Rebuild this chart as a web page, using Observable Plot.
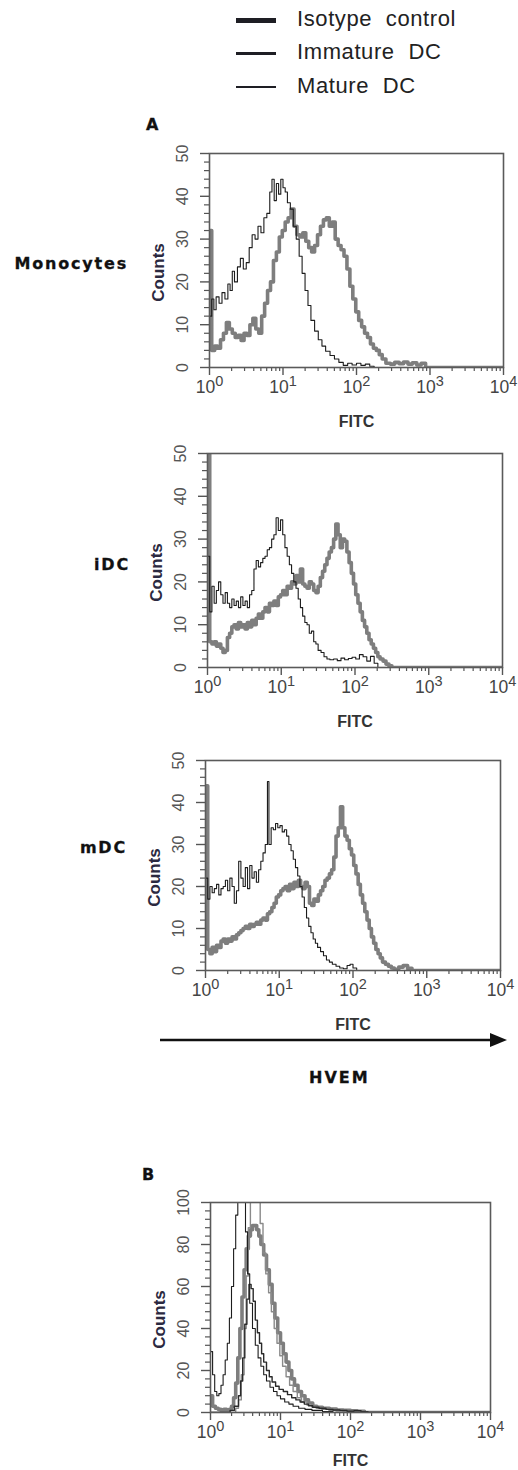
<!DOCTYPE html>
<html><head><meta charset="utf-8">
<script src="https://cdn.jsdelivr.net/npm/d3@7"></script>
<script src="https://cdn.jsdelivr.net/npm/@observablehq/plot@0.6"></script>
<style>
body{margin:0;background:#fff;}
#root{position:relative;width:518px;height:1470px;overflow:hidden;font-family:"Liberation Sans",Arial,sans-serif;background:#fff;}
.abs{position:absolute;white-space:nowrap;line-height:1;}
.bold{font-family:"DejaVu Sans",sans-serif;font-weight:bold;color:#111;-webkit-text-stroke:0.3px #111;}
.leg{font-size:22px;color:#222;word-spacing:7px;letter-spacing:0.6px;}
svg.panel{position:absolute;left:0;overflow:visible;}
</style></head><body><div id="root"></div>
<script>
// ---------- labels ----------
const legendNames = ["Isotype control", "Immature DC", "Mature DC"];
const rowLabels = ["Monocytes", "iDC", "mDC"];
const xTickExponents = [0, 1, 2, 3, 4];
const yTicksA = [0, 10, 20, 30, 40, 50];
const yTicksB = [0, 20, 40, 60, 80, 100];

// ---------- data: [log10(FITC), counts] ----------
const monoThin = [[0.00,12],[0.03,16],[0.06,13.5],[0.09,16.5],[0.13,15],[0.17,17.5],[0.21,16],[0.25,19.5],[0.28,18],[0.31,22.5],[0.34,20],[0.38,23.5],[0.42,25.5],[0.46,23],[0.50,24.5],[0.54,28],[0.58,31],[0.62,30],[0.66,33],[0.70,31.5],[0.74,35],[0.78,36],[0.82,41],[0.85,44],[0.88,39],[0.91,43],[0.94,40.5],[0.97,44],[1.00,42],[1.03,41],[1.06,38.5],[1.10,37],[1.14,33],[1.18,30],[1.22,26],[1.26,22],[1.30,18],[1.34,14.5],[1.38,11],[1.43,8.5],[1.48,6.5],[1.53,5],[1.58,3.8],[1.64,2.8],[1.70,2],[1.76,1.2],[1.82,0.5],[1.88,1],[1.94,0.6],[2.00,1],[2.06,0.5],[2.12,0.8],[2.18,0.3],[2.24,0],[4.00,0]];
const monoThick = [[0.00,32],[0.03,4],[0.07,5],[0.11,4.5],[0.15,6.5],[0.19,8],[0.23,10.5],[0.27,9],[0.31,8],[0.35,7],[0.39,7.5],[0.43,6.3],[0.47,8],[0.51,7.5],[0.55,10],[0.59,11.5],[0.63,9],[0.67,8],[0.71,12],[0.75,15],[0.79,18],[0.83,20],[0.87,25],[0.91,27],[0.95,30.5],[0.99,32],[1.03,34],[1.07,35],[1.11,37],[1.15,33],[1.19,31],[1.23,30.5],[1.27,31.5],[1.31,29.5],[1.35,28],[1.39,27],[1.43,28.5],[1.47,31],[1.51,33],[1.55,34.5],[1.59,35],[1.63,33],[1.67,34],[1.71,30],[1.75,28.5],[1.79,27.5],[1.83,26],[1.87,23],[1.91,19],[1.95,16],[1.99,13],[2.03,11],[2.07,9.5],[2.11,8],[2.15,7],[2.19,5.5],[2.23,4.5],[2.27,4],[2.31,3],[2.35,2],[2.40,1],[2.46,0.8],[2.52,1.2],[2.58,0.9],[2.64,1.3],[2.70,0.8],[2.76,1.1],[2.82,0.6],[2.88,1],[2.94,0],[4.00,0]];

const idcThin = [[0.00,26],[0.03,13],[0.06,19],[0.09,15],[0.12,18],[0.15,20],[0.18,17],[0.21,15],[0.24,17.5],[0.27,15],[0.30,14],[0.33,16],[0.36,14.5],[0.39,15.5],[0.42,14],[0.45,16.5],[0.48,14.5],[0.51,15.5],[0.54,14],[0.57,17],[0.60,18],[0.63,23],[0.66,25],[0.69,23.5],[0.72,24.5],[0.75,25.5],[0.78,26],[0.81,27.5],[0.84,28],[0.87,30],[0.90,31],[0.93,35],[0.96,32],[0.99,34.5],[1.02,31],[1.05,28],[1.08,26],[1.11,24],[1.14,22],[1.17,20],[1.20,18.5],[1.23,16],[1.26,14],[1.29,12],[1.32,10.5],[1.35,10],[1.38,8],[1.41,8.5],[1.44,6],[1.47,5.5],[1.50,4],[1.54,3.5],[1.58,2.5],[1.62,2],[1.66,1.8],[1.71,2],[1.76,1.6],[1.81,2.2],[1.86,1.8],[1.91,2.1],[1.96,2.4],[2.01,2],[2.06,3],[2.11,2.5],[2.16,1.5],[2.21,2.6],[2.26,1],[2.31,0],[4.00,0]];
const idcThick = [[0.00,55],[0.03,6],[0.06,5.5],[0.09,6],[0.12,5],[0.15,5.5],[0.18,4.5],[0.21,3.5],[0.24,4],[0.27,7],[0.30,8],[0.33,9.5],[0.36,10],[0.39,9],[0.42,10.5],[0.45,9.5],[0.48,10],[0.51,9],[0.54,10.5],[0.57,9.5],[0.60,11],[0.63,10],[0.66,11.5],[0.69,12.5],[0.72,11.5],[0.75,13],[0.78,14],[0.81,13],[0.84,15],[0.87,14.5],[0.90,15.5],[0.93,14.5],[0.96,16.5],[0.99,17],[1.02,18],[1.05,17],[1.08,19],[1.11,18.5],[1.14,20],[1.17,19.5],[1.20,21.5],[1.23,20],[1.26,23],[1.29,19.5],[1.32,19],[1.35,18.5],[1.38,20],[1.41,19.5],[1.44,18],[1.47,17.5],[1.50,19],[1.53,21],[1.56,22.5],[1.59,24],[1.62,25.5],[1.65,27],[1.68,28],[1.71,30],[1.74,33.5],[1.77,31],[1.80,28],[1.83,30],[1.86,29.5],[1.89,27],[1.92,24.5],[1.95,22],[1.98,19.5],[2.01,17],[2.04,15],[2.07,13],[2.10,11],[2.13,9.5],[2.16,8],[2.19,6.5],[2.22,5.5],[2.25,4.5],[2.28,3.5],[2.31,2.5],[2.34,2],[2.38,1.5],[2.42,0.8],[2.46,0.4],[2.50,0],[4.00,0]];

const mdcThin = [[0.00,22],[0.03,17],[0.06,20],[0.09,18.5],[0.12,19.5],[0.15,20.5],[0.18,18],[0.21,19.5],[0.24,20],[0.27,21.5],[0.30,19],[0.33,22],[0.36,20],[0.39,16],[0.42,19],[0.45,26],[0.48,22],[0.51,20],[0.54,24.5],[0.57,19.5],[0.60,25],[0.63,22],[0.66,23.5],[0.69,21],[0.72,24],[0.75,26],[0.78,28],[0.81,30],[0.84,45],[0.86,30],[0.89,34],[0.92,33.5],[0.95,35],[0.98,34],[1.01,34.5],[1.04,33],[1.07,33.5],[1.10,32],[1.13,30],[1.16,28.5],[1.19,26.5],[1.22,24.5],[1.25,22.5],[1.28,20],[1.31,17.5],[1.34,15],[1.37,12.5],[1.40,10.5],[1.43,9],[1.46,7.5],[1.49,6.5],[1.52,5.5],[1.56,4.5],[1.60,3.5],[1.64,2.5],[1.68,2],[1.72,1.5],[1.77,1],[1.82,0.6],[1.87,0.4],[1.92,1.2],[1.96,1.5],[2.00,0.6],[2.05,0],[4.00,0]];
const mdcThick = [[0.00,44],[0.03,5],[0.06,4],[0.09,5.5],[0.12,4.5],[0.15,6],[0.18,5.5],[0.21,7],[0.24,7.5],[0.27,6.5],[0.30,7.5],[0.33,7],[0.36,8],[0.39,7.5],[0.42,8.5],[0.45,9],[0.48,9.5],[0.51,10],[0.54,10.5],[0.57,10],[0.60,11],[0.63,10.5],[0.66,11],[0.69,11.5],[0.72,11],[0.75,12],[0.78,12.5],[0.81,12],[0.84,13.5],[0.87,14],[0.90,15],[0.93,16],[0.96,17.5],[0.99,18],[1.02,19],[1.05,19.5],[1.08,20],[1.11,19],[1.14,20.5],[1.17,19.5],[1.20,21],[1.23,20],[1.26,21.5],[1.29,20],[1.32,19.5],[1.35,21],[1.38,20],[1.41,16],[1.44,15.5],[1.47,17],[1.50,16.5],[1.53,18],[1.56,19],[1.59,20],[1.62,21.5],[1.65,22],[1.68,23],[1.71,24],[1.74,27],[1.77,32],[1.80,34],[1.83,39],[1.86,34],[1.89,32],[1.92,31],[1.95,29],[1.98,27.5],[2.01,25],[2.04,23],[2.07,20.5],[2.10,18],[2.13,16],[2.16,14],[2.19,12],[2.22,10],[2.25,8],[2.28,6.5],[2.31,5],[2.34,4],[2.37,3],[2.40,2],[2.44,1.5],[2.48,1],[2.52,0.6],[2.56,0.3],[2.62,0.8],[2.68,1.2],[2.74,0.5],[2.80,0],[4.00,0]];

const bThinLeft = [[0.00,29],[0.03,18],[0.06,10],[0.09,8],[0.12,9],[0.15,13],[0.18,18],[0.21,25],[0.24,33],[0.27,45],[0.30,60],[0.33,78],[0.36,94],[0.39,105],[0.42,106],[0.45,106],[0.48,104],[0.50,86],[0.53,66],[0.56,52],[0.60,40],[0.64,32],[0.68,26],[0.72,22],[0.76,18],[0.80,15],[0.85,12],[0.90,10],[0.95,8],[1.00,6.5],[1.06,5],[1.12,4],[1.18,3],[1.26,2],[1.35,1.5],[1.45,1],[1.60,0.5],[1.75,0],[4.00,0]];
const bThinMid = [[0.00,0],[0.20,0],[0.28,1],[0.34,3],[0.40,8],[0.43,15],[0.46,26],[0.49,42],[0.52,54],[0.55,61],[0.58,59],[0.61,53],[0.64,44],[0.67,38],[0.70,33],[0.73,28],[0.76,24],[0.80,20],[0.84,17],[0.88,14.5],[0.93,12.5],[0.98,11],[1.04,10],[1.10,8.5],[1.16,7],[1.22,6],[1.28,5],[1.34,4],[1.40,3.2],[1.46,2.5],[1.55,2],[1.65,1.5],[1.75,1.2],[1.85,1],[1.95,0.6],[2.05,0.8],[2.15,0.4],[2.25,0],[4.00,0]];
const bThinGray = [[0.00,0],[0.30,0],[0.36,2],[0.40,6],[0.44,18],[0.48,40],[0.51,65],[0.54,88],[0.57,104],[0.60,106],[0.64,106],[0.68,104],[0.71,90],[0.75,76],[0.79,66],[0.83,57],[0.87,48],[0.91,40],[0.95,33],[0.99,27],[1.03,22],[1.08,17],[1.13,13],[1.18,10],[1.24,7],[1.30,5],[1.38,3.5],[1.46,2.5],[1.55,2],[1.65,1.5],[1.80,1],[1.95,0.5],[2.10,0],[4.00,0]];
const bThick = [[0.00,8],[0.03,3],[0.07,2],[0.11,1.5],[0.15,1],[0.19,1.5],[0.23,1],[0.27,1.5],[0.30,3],[0.33,7],[0.36,14],[0.39,26],[0.42,40],[0.45,55],[0.48,68],[0.51,78],[0.54,84],[0.57,87],[0.60,89],[0.63,89],[0.66,87],[0.69,84],[0.72,80],[0.76,75],[0.80,68],[0.84,61],[0.88,52],[0.92,45],[0.96,38],[1.00,33],[1.04,28],[1.08,24],[1.12,20],[1.16,16],[1.20,13],[1.25,10],[1.30,8],[1.35,6],[1.40,4.5],[1.46,3],[1.52,2.5],[1.60,2],[1.70,1.6],[1.80,1.2],[1.90,1],[2.00,0.8],[2.10,0.6],[2.20,0],[4.00,0]];

// ---------- helpers ----------
const root = document.getElementById("root");
const toRows = arr => arr.map(([e, c]) => ({x: 10 ** e, y: c}));
const xMajor = xTickExponents.map(k => 10 ** k);
const xMinor = [];
for (const k of xTickExponents.slice(0, -1)) for (let m = 2; m <= 9; m++) xMinor.push(m * 10 ** k);

const THIN = {stroke: "#1c1c1c", strokeWidth: 1.1};
const MID = {stroke: "#2a2a2a", strokeWidth: 1.4};
const THINGRAY = {stroke: "#8a8a8a", strokeWidth: 1.4};
const THICK = {stroke: "#7e7e7e", strokeWidth: 3.6};

function addText(txt, css, cls) {
  const d = document.createElement("div");
  d.className = "abs " + (cls || "");
  d.textContent = txt;
  Object.assign(d.style, css);
  root.appendChild(d);
  return d;
}

function panel({frame: [x0, x1, y0, y1], yMax, yMajor, yMinorStep, series, fitcOffset = 59}) {
  const mt = 14, mb = 72;
  const yMinor = d3.range(0, yMax + 1e-9, yMinorStep).filter(v => !yMajor.includes(v));
  const marks = [
    Plot.axisX({ticks: xMinor, tickSize: 4, tickFormat: () => "", label: null, stroke: "#555", strokeWidth: 1.2}),
    Plot.axisX({ticks: xMajor, tickSize: 8, tickPadding: 5, tickFormat: d => "10^" + Math.round(Math.log10(d)),
      fontSize: 17.5, fill: "#444", stroke: "#555", strokeWidth: 1.4, label: null}),
    Plot.axisY({ticks: yMinor, tickSize: 5, tickFormat: () => "", label: null, stroke: "#555", strokeWidth: 1.2}),
    Plot.axisY({ticks: yMajor, tickSize: 9, tickRotate: -90, tickPadding: 13, fontSize: 16, fill: "#555", stroke: "#555", strokeWidth: 1.4, label: null}),
    ...series.map(([data, style]) => Plot.line(toRows(data), {x: "x", y: "y", curve: "step-after", clip: true, ...style})),
    Plot.frame({stroke: "#5a5a5a", strokeWidth: 1.6}),
    Plot.text(["Counts"], {frameAnchor: "left", textAnchor: "middle", dx: -51, dy: 12, rotate: -90, fontSize: 17, fontWeight: 600, fill: "#2b2940"}),
    Plot.text(["FITC"], {frameAnchor: "bottom", dy: fitcOffset, fontSize: 16, fontWeight: "bold", fill: "#333"})
  ];
  const svg = Plot.plot({
    width: 518,
    height: (y1 - y0) + mt + mb,
    marginLeft: x0, marginRight: 518 - x1, marginTop: mt, marginBottom: mb,
    x: {type: "log", domain: [1, 1e4]},
    y: {domain: [0, yMax]},
    style: {fontFamily: "'Liberation Sans', Arial, sans-serif", background: "transparent", overflow: "visible"},
    marks
  });
  svg.classList.add("panel");
  svg.style.top = (y0 - mt) + "px";
  svg.querySelectorAll('g[aria-label="x-axis tick label"] text').forEach(t => {
    const s = t.textContent;
    if (!s.includes("^")) return;
    const [b, p] = s.split("^");
    t.textContent = b;
    const ts = document.createElementNS("http://www.w3.org/2000/svg", "tspan");
    ts.setAttribute("dy", "-0.5em");
    ts.setAttribute("font-size", "14.5");
    ts.textContent = p;
    t.appendChild(ts);
  });
  root.appendChild(svg);
}

// ---------- legend ----------
const legStyles = [{w: 5, y: 20}, {w: 3, y: 53}, {w: 1.5, y: 87}];
legendNames.forEach((name, i) => {
  const ln = document.createElement("div");
  ln.className = "abs";
  Object.assign(ln.style, {left: "236px", width: "40px", top: (legStyles[i].y - legStyles[i].w / 2) + "px",
    height: legStyles[i].w + "px", background: "#1e1e24"});
  root.appendChild(ln);
  addText(name, {left: "297px", top: (legStyles[i].y - 12) + "px"}, "leg");
});

addText("A", {left: "146px", top: "117px", fontSize: "16px"}, "bold");
addText("B", {left: "142px", top: "1167px", fontSize: "16px"}, "bold");

// ---------- panels ----------
panel({frame: [209, 503, 153, 367], yMax: 50, yMajor: yTicksA, yMinorStep: 2, series: [[monoThick, THICK], [monoThin, THIN]]});
panel({frame: [207, 502, 453, 667], yMax: 50, yMajor: yTicksA, yMinorStep: 2, series: [[idcThick, THICK], [idcThin, THIN]]});
panel({frame: [205, 500, 760, 970], yMax: 50, yMajor: yTicksA, yMinorStep: 2, series: [[mdcThick, THICK], [mdcThin, THIN]]});
panel({frame: [210, 490, 1202, 1412], yMax: 100, yMajor: yTicksB, yMinorStep: 4, fitcOffset: 53, series: [[bThick, THICK], [bThinGray, THINGRAY], [bThinMid, MID], [bThinLeft, THIN]]});

// ---------- row labels ----------
const rowPos = [{right: 128, y: 264}, {right: 130, y: 565}, {right: 127, y: 848}];
rowLabels.forEach((t, i) => {
  addText(t, {right: (518 - rowPos[i].right) + "px", top: (rowPos[i].y - 8) + "px", fontSize: "16px", letterSpacing: "1.8px"}, "bold");
});

// ---------- HVEM arrow ----------
const arrow = document.createElementNS("http://www.w3.org/2000/svg", "svg");
arrow.setAttribute("width", "518"); arrow.setAttribute("height", "30");
Object.assign(arrow.style, {position: "absolute", left: "0px", top: "1025px"});
arrow.innerHTML = '<line x1="160" y1="15" x2="492" y2="15" stroke="#111" stroke-width="2.5"/><polygon points="490,8 507,15 490,22" fill="#111"/>';
root.appendChild(arrow);
addText("HVEM", {left: "309px", top: "1070px", fontSize: "16px", letterSpacing: "2px"}, "bold");
</script></body></html>
